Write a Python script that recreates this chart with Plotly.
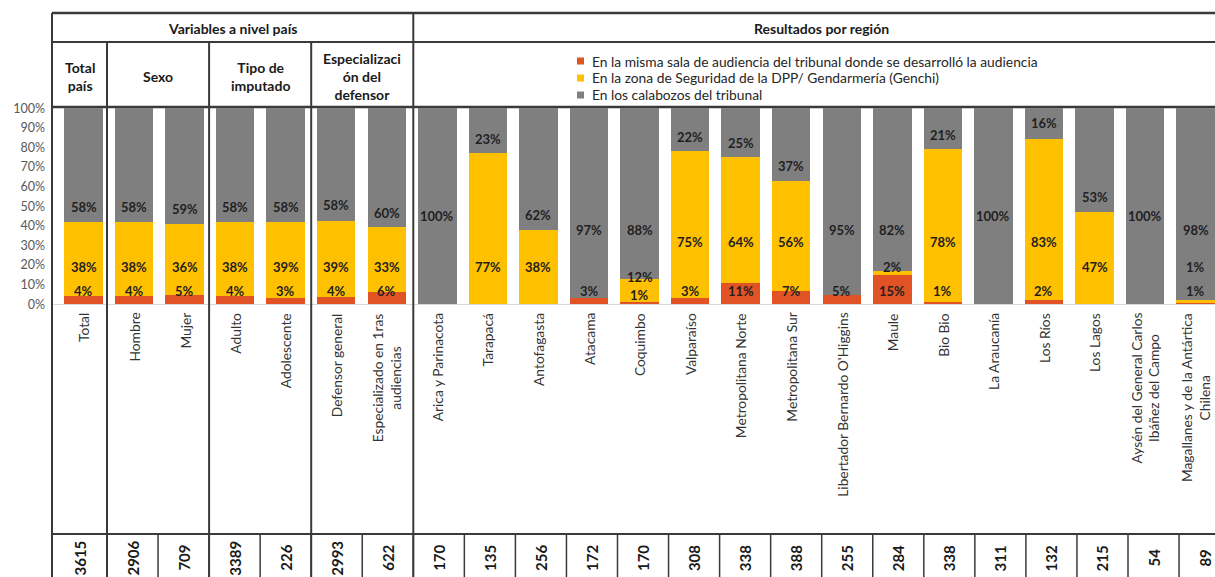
import plotly.graph_objects as go

W, H = 1215, 577

# ---- data (percent per bar) ----
categories = [
    "Total", "Hombre", "Mujer", "Adulto", "Adolescente", "Defensor general",
    "Especializado en 1ras audiencias", "Arica y Parinacota", "Tarapacá",
    "Antofagasta", "Atacama", "Coquimbo", "Valparaíso", "Metropolitana Norte",
    "Metropolitana Sur", "Libertador Bernardo O'Higgins", "Maule", "Bio Bio",
    "La Araucanía", "Los Ríos", "Los Lagos",
    "Aysén del General Carlos Ibáñez del Campo",
    "Magallanes y de la Antártica Chilena",
]
sala = [4, 4, 5, 4, 3, 4, 6, 0, 0, 0, 3, 1, 3, 11, 7, 5, 15, 1, 0, 2, 0, 0, 1]
zona = [38, 38, 36, 38, 39, 39, 33, 0, 77, 38, 0, 12, 75, 64, 56, 0, 2, 78, 0, 83, 47, 0, 1]
calabozos = [58, 58, 59, 58, 58, 58, 60, 100, 23, 62, 97, 88, 22, 25, 37, 95, 82, 21, 100, 16, 53, 100, 98]
n_casos = [3615, 2906, 709, 3389, 226, 2993, 622, 170, 135, 256, 172, 170, 308,
           338, 388, 255, 284, 338, 311, 132, 215, 54, 89]

series_names = [
    "En la misma sala de audiencia del tribunal donde se desarrolló la audiencia",
    "En la zona de Seguridad de la DPP/ Gendarmería (Genchi)",
    "En los calabozos del tribunal",
]
group_headers = ["Total<br>país", "Sexo", "Tipo de<br>imputado", "Especializaci<br>ón del<br>defensor"]
group_sizes = [1, 2, 2, 2]

# label line breaks as in the original axis
wrapped = {
    "Especializado en 1ras audiencias": "Especializado en 1ras<br>audiencias",
    "Aysén del General Carlos Ibáñez del Campo": "Aysén del General Carlos<br>Ibáñez del Campo",
    "Magallanes y de la Antártica Chilena": "Magallanes y de la Antártica<br>Chilena",
}

COLORS = ["#E15325", "#FFC000", "#7F7F7F"]
FONT = "Lato, 'Open Sans', sans-serif"
LINE = "#3a3a3a"


def px_x(p):
    return p / W


def px_y(p):
    return 1 - p / H


# table geometry (pixels)
T_LEFT, T_FIRST, T_STEP = 52, 107, 51.05
T_TOP, T_ROW1, T_ROW2, T_NUM = 13, 42, 107, 534
cell_edges = [T_LEFT] + [T_FIRST + T_STEP * k for k in range(len(categories))]

fig = go.Figure()
for name, vals, col in zip(series_names, [sala, zona, calabozos], COLORS):
    fig.add_trace(go.Bar(x=categories, y=vals, name=name, marker_color=col,
                         marker_line_width=0, showlegend=False))

# data labels (manually positioned in the original, approximated here)
annotations = []
lbl_font = dict(family=FONT, size=13, color="#1f1f1f")
for i, c in enumerate(categories):
    r, y, g = sala[i], zona[i], calabozos[i]
    y_lbl = None
    if y > 0:
        if y > 50 and r > 0:
            y_lbl = 32
        elif y >= 5:
            y_lbl = min(19, r + y + 1)
        else:
            y_lbl = 19
        annotations.append(dict(x=c, y=y_lbl, text=f"<b>{y}%</b>", showarrow=False, font=lbl_font))
    if r > 0:
        r_lbl = 4.5 if (y_lbl is not None and y_lbl < 16) else 7
        annotations.append(dict(x=c, y=r_lbl, text=f"<b>{r}%</b>", showarrow=False, font=lbl_font))
    if g > 0:
        base = r + y
        if g <= 65:
            yy = base + 7.5
        else:
            yy = 45 if base == 0 else 38
        annotations.append(dict(x=c, y=yy, text=f"<b>{g}%</b>", showarrow=False, font=lbl_font))

# category labels (rotated, under each bar)
for c in categories:
    annotations.append(dict(
        x=c, xref="x", xanchor="center", y=px_y(311), yref="paper", yanchor="top",
        text=wrapped.get(c, c), textangle=-90, showarrow=False, align="center",
        font=dict(family=FONT, size=13.8, color="#333333")))

# case counts in bottom row
for k, n in enumerate(n_casos):
    cx = (cell_edges[k] + cell_edges[k + 1]) / 2
    annotations.append(dict(
        x=px_x(cx), xref="paper", xanchor="center", y=px_y(558), yref="paper", yanchor="middle",
        text=f"<b>{n}</b>", textangle=-90, showarrow=False,
        font=dict(family=FONT, size=15, color="#1a1a1a")))

# header texts
hdr_font = dict(family=FONT, size=14, color="#1a1a1a")
region_left = cell_edges[7]
annotations.append(dict(x=px_x((T_LEFT + region_left) / 2), y=px_y(28), xref="paper", yref="paper",
                        xanchor="center", yanchor="middle",
                        text="<b>Variables a nivel país</b>", showarrow=False, font=hdr_font))
annotations.append(dict(x=px_x((region_left + 1230) / 2), y=px_y(28), xref="paper", yref="paper",
                        xanchor="center", yanchor="middle",
                        text="<b>Resultados por región</b>", showarrow=False, font=hdr_font))
pos = 0
for hdr, sz in zip(group_headers, group_sizes):
    cx = (cell_edges[pos] + cell_edges[pos + sz]) / 2
    annotations.append(dict(x=px_x(cx), y=px_y(76), xref="paper", yref="paper",
                            xanchor="center", yanchor="middle",
                            text=f"<b>{hdr}</b>", showarrow=False, font=hdr_font, align="center"))
    pos += sz

# legend (drawn by hand, small squares as in the original)
shapes = []
for j, (name, col) in enumerate(zip(series_names, COLORS)):
    ly = 61 + 17 * j
    shapes.append(dict(type="rect", xref="paper", yref="paper",
                       x0=px_x(577), x1=px_x(584), y0=px_y(ly + 3.5), y1=px_y(ly - 3.5),
                       fillcolor=col, line_width=0))
    annotations.append(dict(x=px_x(590), y=px_y(ly), xref="paper", yref="paper",
                            xanchor="left", yanchor="middle",
                            text=name, showarrow=False,
                            font=dict(family=FONT, size=13.8, color="#262626")))


def hline(py, x0, x1, w=2):
    shapes.append(dict(type="line", xref="paper", yref="paper", x0=px_x(x0), x1=px_x(x1),
                       y0=px_y(py), y1=px_y(py), line=dict(color=LINE, width=w)))


def vline(px, y0, y1, w=2):
    shapes.append(dict(type="line", xref="paper", yref="paper", x0=px_x(px), x1=px_x(px),
                       y0=px_y(y0), y1=px_y(y1), line=dict(color=LINE, width=w)))


hline(T_TOP, T_LEFT, W + 5, 2.5)
hline(T_ROW1, T_LEFT, W + 5, 2)
hline(T_ROW2, T_LEFT, W + 5, 2.5)
hline(T_NUM, T_LEFT, W + 5, 2)
vline(T_LEFT, T_TOP, H + 5, 2)
vline(region_left, T_TOP, H + 5, 2)
pos = 0
for sz in group_sizes[:-1]:
    pos += sz
    vline(cell_edges[pos], T_ROW1, H + 5, 2)
for k in range(1, len(categories)):
    vline(cell_edges[k], T_NUM, H + 5, 1.5)

# x range so bar centres line up with the picture
c0, step = 83.5, 50.55
x_dom0 = 52
fig.update_layout(
    width=W, height=H,
    margin=dict(l=0, r=0, t=0, b=0),
    paper_bgcolor="white", plot_bgcolor="white",
    barmode="stack", barnorm="percent", bargap=0.24,
    showlegend=False,
    xaxis=dict(domain=[px_x(x_dom0), 1], range=[(x_dom0 - c0) / step, (W - c0) / step],
               showticklabels=False, ticks="", showgrid=False, zeroline=False,
               showline=True, linecolor="#d9d9d9", linewidth=1, automargin=False),
    yaxis=dict(domain=[px_y(304.3), px_y(108.3)], range=[0, 100], dtick=10, ticksuffix="%",
               showgrid=False, zeroline=False, showline=False, ticks="",
               ticklabelstandoff=6, automargin=False,
               tickfont=dict(family=FONT, size=12.5, color="#595959")),
    annotations=annotations,
    shapes=shapes,
)

fig.write_html("out.html", config={"displayModeBar": False},
               post_script="document.body.style.margin='0';")
